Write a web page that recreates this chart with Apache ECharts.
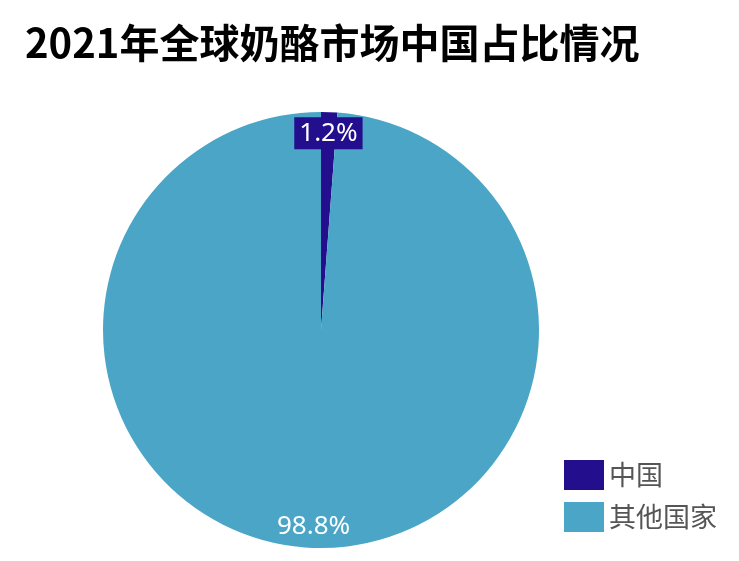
<!DOCTYPE html>
<html>
<head>
<meta charset="utf-8">
<script src="https://cdn.jsdelivr.net/npm/echarts@6/dist/echarts.min.js"></script>
<style>
  html, body { margin: 0; padding: 0; background: #fff; }
  #chart { width: 739px; height: 561px; }
</style>
</head>
<body>
<div id="chart"></div>
<script>
var names = ["中国", "其他国家"];
var shares = [1.2, 98.8];
var colors = ["#230f8e", "#4aa5c7"];
var labelBoxes = ["#230f8e", "transparent"];

var chartDom = document.getElementById("chart");
var myChart = echarts.init(chartDom);
var option;

var pieData = names.map(function (n, i) {
  return { name: n, value: shares[i], itemStyle: { color: colors[i] } };
});

// second ring only carries the labels, so they sit near the rim
var labelData = names.map(function (n, i) {
  return {
    name: n,
    value: shares[i],
    itemStyle: { color: "rgba(0,0,0,0)" },
    label: { backgroundColor: labelBoxes[i] },
  };
});

option = {
  textStyle: { fontFamily: "Noto Sans CJK SC" },
  title: {
    text: "2021年全球奶酪市场中国占比情况",
    left: 20,
    top: 18,
    textStyle: {
      fontSize: 40,
      fontWeight: "bold",
      color: "#000",
      fontFamily: "Noto Sans CJK SC",
    },
  },
  legend: {
    orient: "vertical",
    left: 559,
    top: 455,
    itemWidth: 40,
    itemHeight: 30,
    itemGap: 12,
    icon: "rect",
    data: names.map(function (n, i) {
      return { name: n, itemStyle: { color: colors[i] } };
    }),
    textStyle: {
      fontSize: 27,
      color: "#555",
      fontFamily: "Noto Sans CJK SC",
    },
  },
  series: [
    {
      type: "pie",
      center: [321, 330],
      radius: [0, 218],
      startAngle: 90,
      label: { show: false },
      labelLine: { show: false },
      silent: true,
      data: pieData,
    },
    {
      type: "pie",
      center: [321, 330],
      radius: [174, 214],
      startAngle: 90,
      silent: true,
      label: {
        show: true,
        position: "inside",
        formatter: "{c}%",
        color: "#fff",
        fontSize: 26,
        padding: [4, 5, 2, 5],
        fontFamily: "Noto Sans",
      },
      labelLine: { show: false },
      data: labelData,
    },
  ],
};

option && myChart.setOption(option);
</script>
</body>
</html>
